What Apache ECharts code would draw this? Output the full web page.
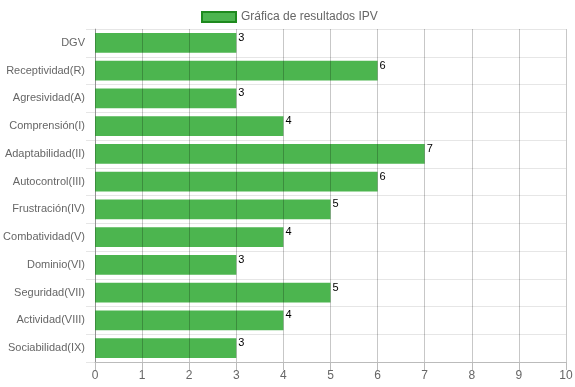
<!DOCTYPE html>
<html><head><meta charset="utf-8">
<script src="https://cdn.jsdelivr.net/npm/echarts@6/dist/echarts.min.js"></script>
<style>html,body{margin:0;padding:0;background:#fff}#c{width:575px;height:387px}</style>
</head><body><div id="c"></div>
<script>
const categories = ["DGV","Receptividad(R)","Agresividad(A)","Comprensión(I)","Adaptabilidad(II)","Autocontrol(III)","Frustración(IV)","Combatividad(V)","Dominio(VI)","Seguridad(VII)","Actividad(VIII)","Sociabilidad(IX)"];
const values = [3,6,3,4,7,6,5,4,3,5,4,3];
const seriesName = "Gráfica de resultados IPV";
const xTicks = [0,1,2,3,4,5,6,7,8,9,10];

const chart = echarts.init(document.getElementById('c'), null, {renderer:'canvas'});
chart.setOption({
  animation:false,
  textStyle:{fontFamily:'Liberation Sans, Arial, sans-serif'},
  legend:{
    top:6, left:196, itemWidth:34, itemHeight:10, itemGap:7, icon:'rect',
    textStyle:{color:'#666', fontSize:12},
    data:[{name:seriesName, itemStyle:{color:'#4CB54F', borderColor:'#1E8A1E', borderWidth:2}}]
  },
  grid:{left:95, right:9, top:29, bottom:25, containLabel:false, outerBoundsMode:'none'},
  xAxis:{
    type:'value', min:xTicks[0], max:xTicks[xTicks.length-1], interval:1, z:3,
    axisLine:{show:true, lineStyle:{color:'#bbb'}},
    axisTick:{show:true, length:8, lineStyle:{color:'#bbb'}},
    axisLabel:{color:'#666', fontSize:12, margin:8},
    splitLine:{show:true, lineStyle:{color:'rgba(0,0,0,0.22)'}}
  },
  yAxis:{
    type:'category', data:categories, inverse:true,
    axisLine:{show:true, lineStyle:{color:'#bbb'}},
    axisTick:{show:true, length:9, lineStyle:{color:'#e6e6e6'}},
    axisLabel:{color:'#666', fontSize:11, margin:10},
    splitLine:{show:true, lineStyle:{color:'#e6e6e6'}}
  },
  series:[{
    name:seriesName, type:'bar', data:values, barCategoryGap:'28%',
    itemStyle:{color:'#4CB54F'},
    label:{show:true, position:'right', distance:2, offset:[0,-5], color:'#000', fontSize:11}
  }]
});
</script></body></html>
